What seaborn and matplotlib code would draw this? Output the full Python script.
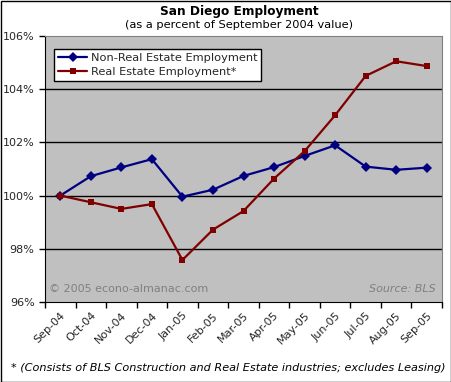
import pandas as pd
import numpy as np
import matplotlib
matplotlib.use('Agg')
import matplotlib.pyplot as plt
import seaborn as sns
from matplotlib.patches import Rectangle

# Data
months = ['Sep-04', 'Oct-04', 'Nov-04', 'Dec-04', 'Jan-05', 'Feb-05', 'Mar-05',
          'Apr-05', 'May-05', 'Jun-05', 'Jul-05', 'Aug-05', 'Sep-05']
non_real_estate = [100.0, 100.73, 101.06, 101.37, 99.96, 100.22, 100.74,
                   101.07, 101.49, 101.89, 101.09, 100.97, 101.05]
real_estate = [100.0, 99.75, 99.5, 99.68, 97.58, 98.72, 99.42,
               100.64, 101.67, 103.02, 104.5, 105.05, 104.87]
y_ticks = [96, 98, 100, 102, 104, 106]

sns.set_style('white')
plt.rcParams['font.family'] = ['DejaVu Sans']

df = pd.DataFrame({
    'month': months * 2,
    'pos': list(range(len(months))) * 2,
    'value': non_real_estate + real_estate,
    'series': ['Non-Real Estate Employment'] * len(months) + ['Real Estate Employment*'] * len(months),
})

fig = plt.figure(figsize=(4.52, 3.82), dpi=100)
ax = fig.add_axes([45 / 452, 1 - 302 / 382, 397 / 452, 266 / 382])
ax.set_facecolor('#C0C0C0')

# gridlines
for yv in y_ticks[1:-1]:
    ax.axhline(yv, color='black', lw=1, zorder=1)

sns.lineplot(data=df, x='pos', y='value', hue='series', style='series',
             palette={'Non-Real Estate Employment': '#000080', 'Real Estate Employment*': '#800000'},
             markers={'Non-Real Estate Employment': 'D', 'Real Estate Employment*': 's'},
             dashes=False, markersize=5, markeredgewidth=0, linewidth=1.6, ax=ax, zorder=3)

ax.set_xlim(-0.5, len(months) - 0.5)
ax.set_ylim(96, 106)
ax.set_yticks(y_ticks)
ax.set_yticklabels([f'{v}%' for v in y_ticks], fontsize=8)
ax.set_xticks(np.arange(len(months)))
ax.set_xticklabels(months, rotation=45, ha='right', rotation_mode='anchor', fontsize=8)
ax.set_xticks(np.arange(-0.5, len(months)), minor=True)
ax.tick_params(axis='x', which='major', length=0, pad=6)
ax.tick_params(axis='x', which='minor', length=4, width=1, direction='out', color='black', bottom=True)
ax.tick_params(axis='y', length=4, width=1, direction='out', color='black', left=True)
ax.set_xlabel('')
ax.set_ylabel('')
for side in ['top', 'right']:
    ax.spines[side].set_color('#808080')
for side in ['left', 'bottom']:
    ax.spines[side].set_color('black')

leg = ax.legend(loc='upper left', bbox_to_anchor=(0.022, 0.95), fontsize=8.2, frameon=True,
                fancybox=False, edgecolor='black', framealpha=1, borderpad=0.35,
                handlelength=2.6, handletextpad=0.3, labelspacing=0.35, borderaxespad=0)
leg.get_frame().set_linewidth(1)

ax.text(0.01, 0.03, '\u00a9 2005 econo-almanac.com', transform=ax.transAxes,
        fontsize=8, color='#808080', ha='left', va='bottom')
ax.text(0.985, 0.03, 'Source: BLS', transform=ax.transAxes,
        fontsize=8, color='#808080', ha='right', va='bottom', style='italic')

fig.text(239 / 452, 1 - 11 / 382, 'San Diego Employment', ha='center', va='center',
         fontsize=8.7, fontweight='bold', color='black')
fig.text(239 / 452, 1 - 25 / 382, '(as a percent of September 2004 value)', ha='center',
         va='center', fontsize=8.2, color='black')
fig.text(228 / 452, 1 - 368 / 382, '* (Consists of BLS Construction and Real Estate industries; excludes Leasing)',
         ha='center', va='center', fontsize=8.1, style='italic', color='black')

fig.patches.append(Rectangle((0.5 / 452, 0.5 / 382), 1 - 1.5 / 452, 1 - 1.5 / 382,
                             transform=fig.transFigure, fill=False, edgecolor='black', lw=1))

fig.savefig('out.png', dpi=100)
